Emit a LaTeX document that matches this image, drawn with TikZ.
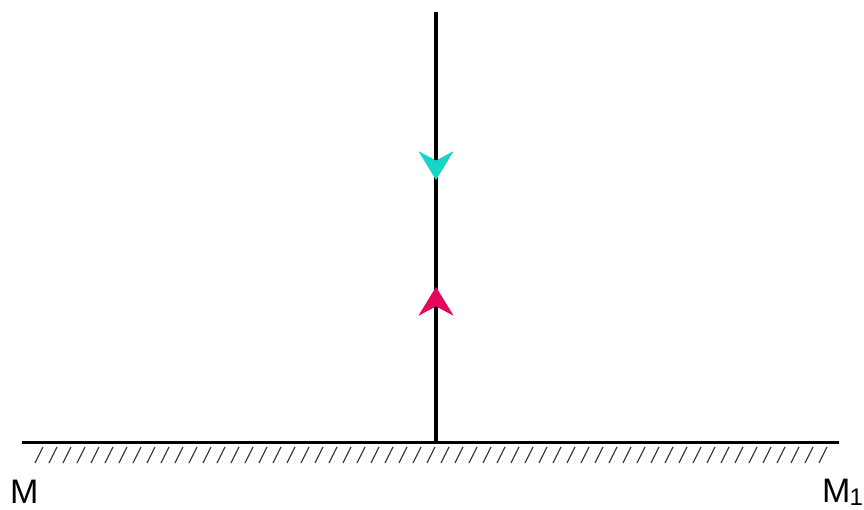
\documentclass[tikz,border=0pt]{standalone}
\usepackage{fontspec}
\setmainfont{Liberation Sans}
\usepackage{tikz}
\usetikzlibrary{arrows.meta,positioning,decorations.markings}
\definecolor{raycyan}{RGB}{22,214,200}
\definecolor{rayred}{RGB}{228,8,92}
\tikzset{
  mirror/.style={line width=3pt, black},
  hatch/.style={line width=1.2pt, black!75},
  ray/.style={line width=4pt, black},
  mlabel/.style={font=\fontsize{34}{40}\selectfont, inner sep=0pt},
  incoming/.style={postaction=decorate, decoration={markings,
    mark=at position 0.39 with {\arrow[raycyan]{Stealth[length=28pt, width=34pt, inset=9pt]}}}},
  outgoing/.style={postaction=decorate, decoration={markings,
    mark=at position 0.64 with {\arrowreversed[rayred]{Stealth[length=28pt, width=34pt, inset=9pt]}}}}
}

\begin{document}
\begin{tikzpicture}[x=1pt, y=-1pt]
\useasboundingbox (0,0) rectangle (864,510);
\coordinate (mleft) at (22,442);
\coordinate (mright) at (839,442);
\coordinate (src) at (436,12);
\coordinate (foot) at (436,442);

% hatching under the mirror
\foreach \hx in {35,49,...,830}
  \draw[hatch] (\hx,463) -- (\hx+8,447);
\draw[mirror] (mleft) -- (mright);

\draw[ray, incoming, outgoing] (src) -- (foot);

\node[mlabel, anchor=base west] (lblM) at (10,503) {M};
\node[mlabel, anchor=base west] (lblM1) at (822,502)
  {M\kern-1pt\raisebox{-3pt}{\fontsize{24}{28}\selectfont 1}};
\end{tikzpicture}
\end{document}
